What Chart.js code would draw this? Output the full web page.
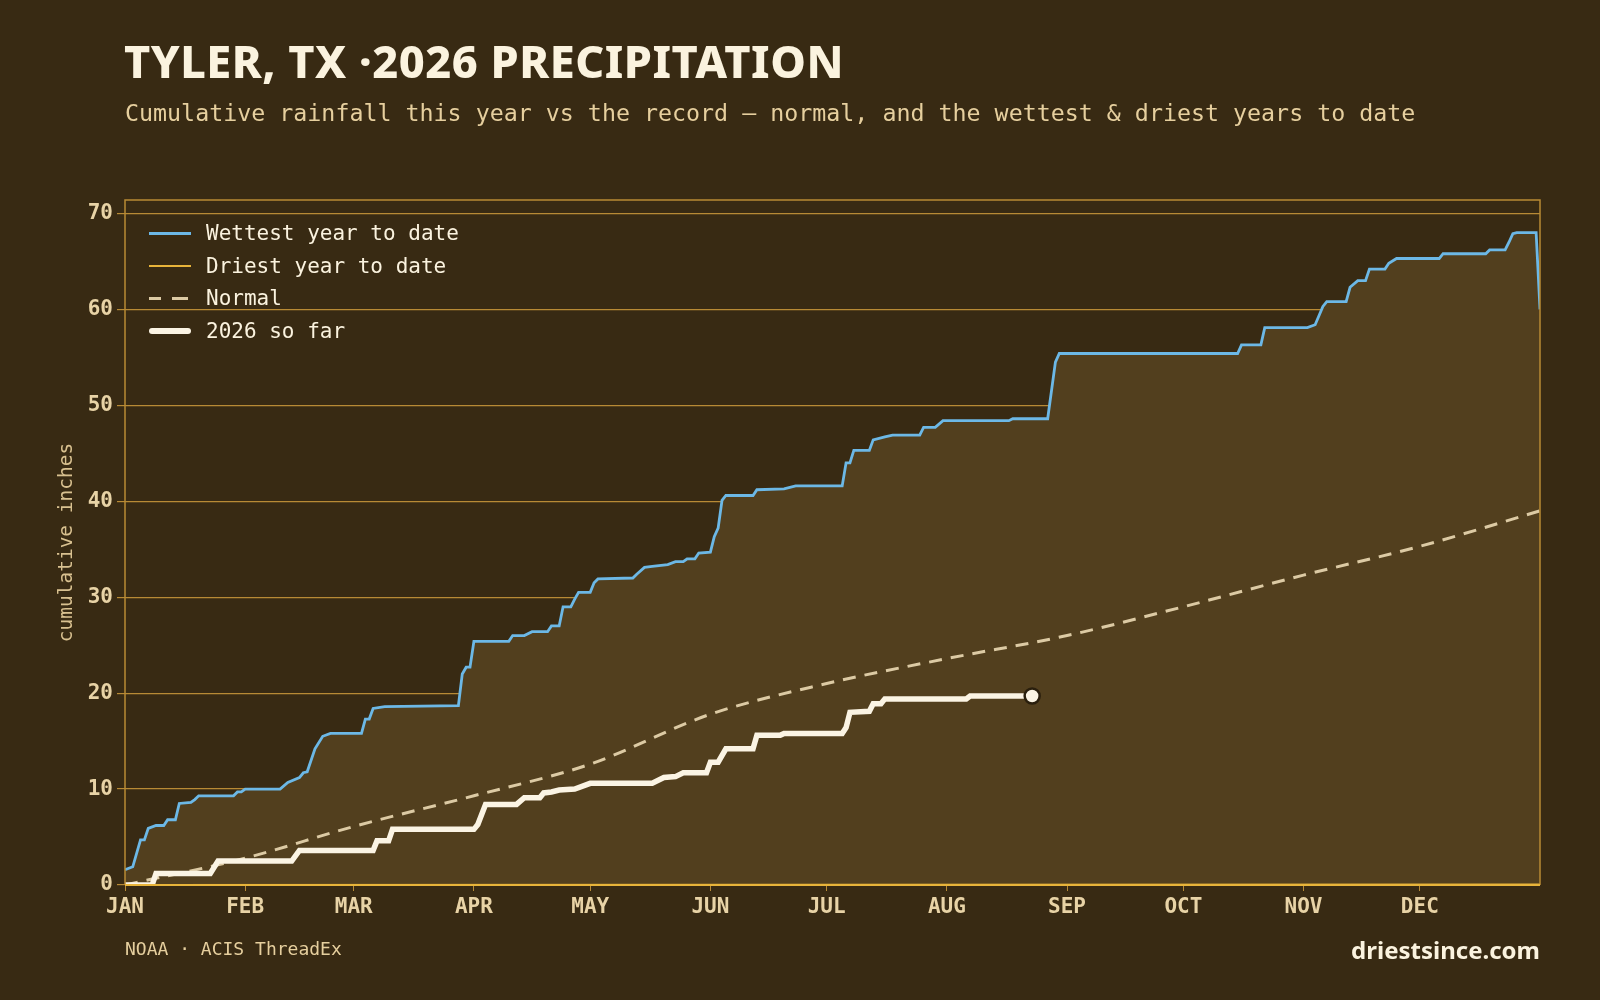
<!DOCTYPE html>
<html>
<head>
<meta charset="utf-8">
<script src="https://cdn.jsdelivr.net/npm/chart.js@4"></script>
<style>
  html, body { margin: 0; padding: 0; background: #382a13; }
  #wrap { position: relative; width: 1600px; height: 1000px; }
  canvas { position: absolute; left: 0; top: 0; }
  .title { position: absolute; left: 124px; top: 30px; font: 800 45px "Noto Sans", sans-serif; color: #fbf3df; letter-spacing: 0.5px; }
  .sub { position: absolute; left: 125px; top: 99px; font: 23.3px "DejaVu Sans Mono", monospace; color: #e6cf9e; }
  .src { position: absolute; left: 125px; top: 938px; font: 18px "DejaVu Sans Mono", monospace; color: #e6cf9e; }
  .brand { position: absolute; right: 60px; top: 933px; font: 700 24px "Noto Sans", sans-serif; color: #fbf3df; }
  .legend { position: absolute; left: 149px; top: 217px; font: 21px "DejaVu Sans Mono", monospace; color: #fbf3df; }
  .legend div { height: 32.6px; display: flex; align-items: center; }
  .legend span.sw { display: inline-block; width: 42px; margin-right: 15px; }
</style>
</head>
<body>
<div id="wrap">
  <canvas id="c" width="1600" height="1000"></canvas>
  <div class="title">TYLER, TX ·2026 PRECIPITATION</div>
  <div class="sub">Cumulative rainfall this year vs the record — normal, and the wettest &amp; driest years to date</div>
  <div class="legend">
    <div><span class="sw" style="border-top:3px solid #6cb8e6"></span>Wettest year to date</div>
    <div><span class="sw" style="border-top:2px solid #e8b43a"></span>Driest year to date</div>
    <div><span class="sw" style="height:0;border-top:3px dashed #dccaa4;border-image:repeating-linear-gradient(90deg,#dccaa4 0 13px,transparent 13px 23px) 3"></span>Normal</div>
    <div><span class="sw" style="border-top:6px solid #fbf4e4;border-radius:3px"></span>2026 so far</div>
  </div>
  <div class="src">NOAA · ACIS ThreadEx</div>
  <div class="brand">driestsince.com</div>
</div>
<script>
/* ---------- DATA ---------- */
const monthLabels = ["JAN","FEB","MAR","APR","MAY","JUN","JUL","AUG","SEP","OCT","NOV","DEC"];
const monthStarts = [0, 31, 59, 90, 120, 151, 181, 212, 243, 273, 304, 334];

const wettestDays = [0,2,4,5,6,8,10,11,13,14,17,18,19,28,29,30,31,40,42,45,46,47,49,51,53,61,62,63,64,67,86,87,88,89,90,99,100,103,105,109,110,112,113,115,116,117,120,121,122,131,132,134,136,140,142,144,145,147,148,151,152,153,154,155,162,163,170,173,185,186,187,188,192,193,196,198,205,206,209,211,228,229,238,240,241,287,288,293,294,305,307,309,310,315,316,318,320,321,325,326,328,339,340,351,352,356,357,358,359,364,365];
const wettestVals = [1.6,1.9,4.7,4.7,5.9,6.2,6.2,6.8,6.8,8.5,8.6,8.9,9.3,9.3,9.7,9.7,10.0,10.0,10.7,11.2,11.7,11.8,14.2,15.5,15.8,15.8,17.3,17.3,18.4,18.6,18.7,22.0,22.7,22.7,25.4,25.4,26.0,26.0,26.4,26.4,27.0,27.0,29.0,29.0,29.8,30.5,30.5,31.5,31.9,32.0,32.4,33.1,33.2,33.4,33.7,33.7,34.0,34.0,34.6,34.7,36.3,37.2,40.1,40.6,40.6,41.2,41.3,41.6,41.6,44.0,44.0,45.3,45.3,46.4,46.7,46.9,46.9,47.7,47.7,48.4,48.4,48.6,48.6,54.5,55.4,55.4,56.3,56.3,58.1,58.1,58.4,60.3,60.8,60.8,62.3,63.0,63.0,64.2,64.2,64.8,65.3,65.3,65.8,65.8,66.2,66.2,67.0,67.9,68.0,68.0,60.0];

const driestDays = [0, 365];
const driestVals = [0, 0.05];

const normalDays = [0,31,59,90,120,151,181,212,243,273,304,334,365];
const normalVals = [0,2.8,6.1,9.3,12.6,17.8,21.0,23.6,26.0,29.0,32.3,35.3,39.0];

const yearDays = [0,7,8,22,24,43,45,64,65,68,69,90,91,93,101,103,107,108,110,112,116,120,136,139,142,144,150,151,153,155,162,163,169,170,185,186,187,192,193,195,196,217,218,234];
const yearVals = [0,0,1.2,1.2,2.5,2.5,3.6,3.6,4.6,4.6,5.8,5.8,6.3,8.4,8.4,9.1,9.1,9.6,9.7,9.9,10.0,10.6,10.6,11.2,11.3,11.7,11.7,12.8,12.8,14.2,14.2,15.6,15.6,15.8,15.8,16.4,18.0,18.1,18.9,18.9,19.4,19.4,19.7,19.7];

const yTicks = [0, 10, 20, 30, 40, 50, 60, 70];

const pts = (xs, ys) => xs.map((x, i) => ({ x, y: ys[i] }));

/* ---------- PLOT FRAME ---------- */
const framePlugin = {
  id: "frame",
  afterDraw(chart) {
    const { ctx, chartArea: a } = chart;
    ctx.save();
    ctx.strokeStyle = "#b88a35";
    ctx.lineWidth = 1.5;
    ctx.beginPath();
    ctx.moveTo(a.left, a.bottom);
    ctx.lineTo(a.left, a.top);
    ctx.lineTo(a.right, a.top);
    ctx.lineTo(a.right, a.bottom);
    ctx.stroke();
    ctx.strokeStyle = "#e8b43a";
    ctx.lineWidth = 2;
    ctx.beginPath();
    ctx.moveTo(a.left, a.bottom);
    ctx.lineTo(a.right, a.bottom);
    ctx.stroke();
    ctx.restore();
  },
};

new Chart(document.getElementById("c"), {
  type: "line",
  data: {
    datasets: [
      {
        data: pts(wettestDays, wettestVals),
        borderColor: "#6cb8e6",
        borderWidth: 2.8,
        backgroundColor: "#523f1e",
        fill: "origin",
        pointRadius: 0,
        order: 4,
      },
      {
        data: pts(driestDays, driestVals),
        borderColor: "#e8b43a",
        borderWidth: 2,
        pointRadius: 0,
        fill: false,
        order: 3,
      },
      {
        data: pts(normalDays, normalVals),
        borderColor: "#dccaa4",
        borderWidth: 3,
        borderDash: [13, 9],
        cubicInterpolationMode: "monotone",
        pointRadius: 0,
        fill: false,
        order: 2,
      },
      {
        data: pts(yearDays, yearVals),
        borderColor: "#fbf4e4",
        borderWidth: 5.5,
        pointRadius: 0,
        fill: false,
        order: 1,
      },
      {
        data: [{ x: yearDays[yearDays.length - 1], y: yearVals[yearVals.length - 1] }],
        pointRadius: 7.5,
        pointBackgroundColor: "#fbf4e4",
        pointBorderColor: "#2a1f0d",
        pointBorderWidth: 2.5,
        showLine: false,
        order: 0,
      },
    ],
  },
  options: {
    responsive: false,
    animation: false,
    layout: { padding: { left: 55, top: 200, right: 60, bottom: 65 } },
    plugins: { legend: { display: false }, tooltip: { enabled: false } },
    scales: {
      x: {
        type: "linear",
        min: 0,
        max: 365,
        afterBuildTicks: (s) => { s.ticks = monthStarts.map((v) => ({ value: v })); },
        afterFit: (s) => { s.height = 50; },
        ticks: {
          autoSkip: false,
          maxRotation: 0,
          color: "#e8d3a6",
          font: { family: "DejaVu Sans Mono", size: 21, weight: "bold" },
          padding: 4,
          callback: (v) => monthLabels[monthStarts.indexOf(v)],
        },
        grid: { display: true, drawOnChartArea: false, color: "#b88a35", tickLength: 6 },
        border: { display: false },
      },
      y: {
        min: 0,
        max: 71.4,
        afterBuildTicks: (s) => { s.ticks = yTicks.map((v) => ({ value: v })); },
        afterFit: (s) => { s.width = 70; },
        ticks: {
          color: "#e8d3a6",
          font: { family: "DejaVu Sans Mono", size: 21, weight: "bold" },
          padding: 4,
        },
        grid: { color: "#b88a35", lineWidth: 1.2, tickLength: 8 },
        border: { display: false },
        title: {
          display: true,
          text: "cumulative inches",
          color: "#d9c190",
          font: { family: "DejaVu Sans Mono", size: 19.5 },
          padding: { top: 0, bottom: 0 },
        },
      },
    },
  },
  plugins: [framePlugin],
});
</script>
</body>
</html>
